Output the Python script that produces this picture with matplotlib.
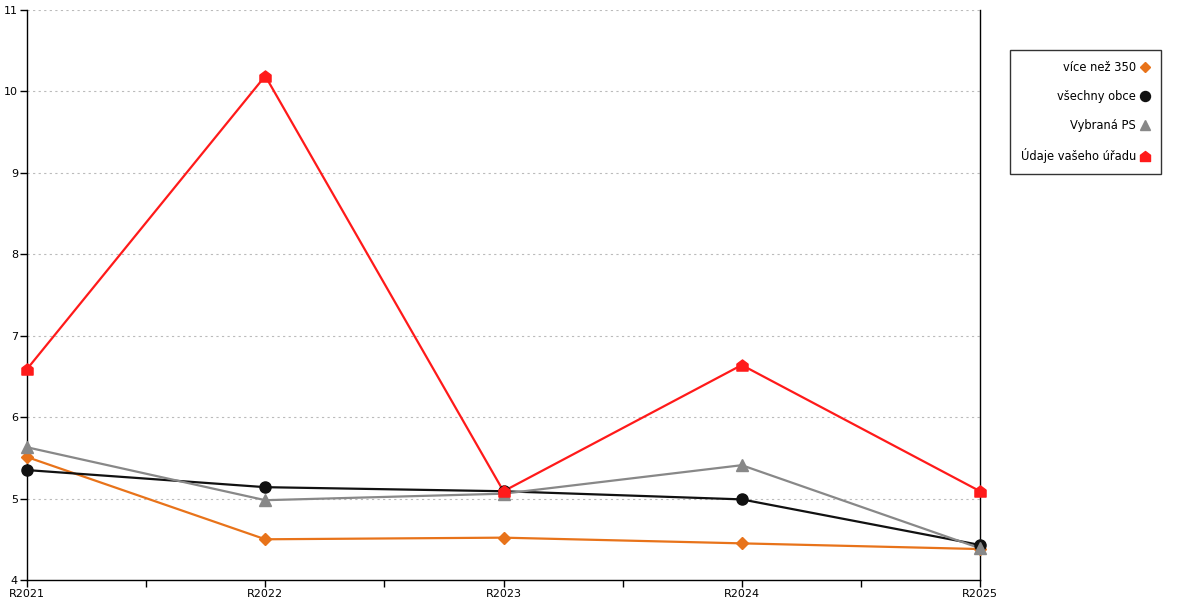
import matplotlib
matplotlib.use("Agg")
import matplotlib.pyplot as plt
from matplotlib.path import Path

years = ["R2021", "R2022", "R2023", "R2024", "R2025"]
vice_nez_350 = [5.51, 4.50, 4.52, 4.45, 4.38]
vsechny_obce = [5.35, 5.14, 5.09, 4.99, 4.43]
vybrana_ps = [5.63, 4.98, 5.06, 5.41, 4.39]
vas_urad = [6.59, 10.19, 5.09, 6.64, 5.09]

house = Path([(-1, -1), (1, -1), (1, 0.25), (0, 1), (-1, 0.25), (-1, -1)],
             [Path.MOVETO, Path.LINETO, Path.LINETO, Path.LINETO, Path.LINETO, Path.CLOSEPOLY])

plt.rcParams["font.family"] = ["DejaVu Sans"]
fig = plt.figure(figsize=(12, 6), dpi=100)
ax = fig.add_axes([27 / 1200, 20 / 600, 953 / 1200, 570 / 600])

x = list(range(len(years)))
series = [
    ("více než 350", vice_nez_350, "#e8731a", "D", 6),
    ("všechny obce", vsechny_obce, "#111111", "o", 8),
    ("Vybraná PS", vybrana_ps, "#888888", "^", 8),
    ("Údaje vašeho úřadu", vas_urad, "#ff1a1a", house, 8),
]
handles = []
for label, vals, col, mk, ms in series:
    ax.plot(x, vals, color=col, lw=1.6, zorder=3)
    ax.plot(x, vals, ls="none", marker=mk, ms=ms, color=col, mec=col, zorder=4, clip_on=False)
    h, = ax.plot([], [], ls="none", marker=mk, ms=ms * 0.9, color=col, mec=col, label=label)
    handles.append(h)

ax.set_xlim(0, 4)
ax.set_ylim(4, 11)
ax.set_yticks(range(4, 12))
ax.set_xticks(x)
ax.set_xticklabels(years)
ax.set_xticks([0.5, 1.5, 2.5, 3.5], minor=True)
ax.tick_params(axis="both", which="both", direction="out", length=5, width=1, labelsize=8, pad=1.5, color="black")
for gy in range(5, 12):
    ax.axhline(gy, color="#bbbbbb", lw=0.8, ls=(0, (2, 3)), zorder=1)
ax.spines["top"].set_visible(False)
for s in ["left", "bottom", "right"]:
    ax.spines[s].set_linewidth(1)
    ax.spines[s].set_color("black")

leg = fig.legend(handles=handles, loc="upper left", bbox_to_anchor=(1010 / 1200, 1 - 50 / 600),
                 markerfirst=False, fontsize=8.3, frameon=True, fancybox=False, borderaxespad=0,
                 handlelength=0.8, handletextpad=0.4, labelspacing=1.4, borderpad=0.95)
for t in leg.get_texts():
    t.set_ha("right")
leg._legend_box.align = "right"
leg.get_frame().set_edgecolor("black")
leg.get_frame().set_linewidth(1)

fig.savefig("out.png", dpi=100)
